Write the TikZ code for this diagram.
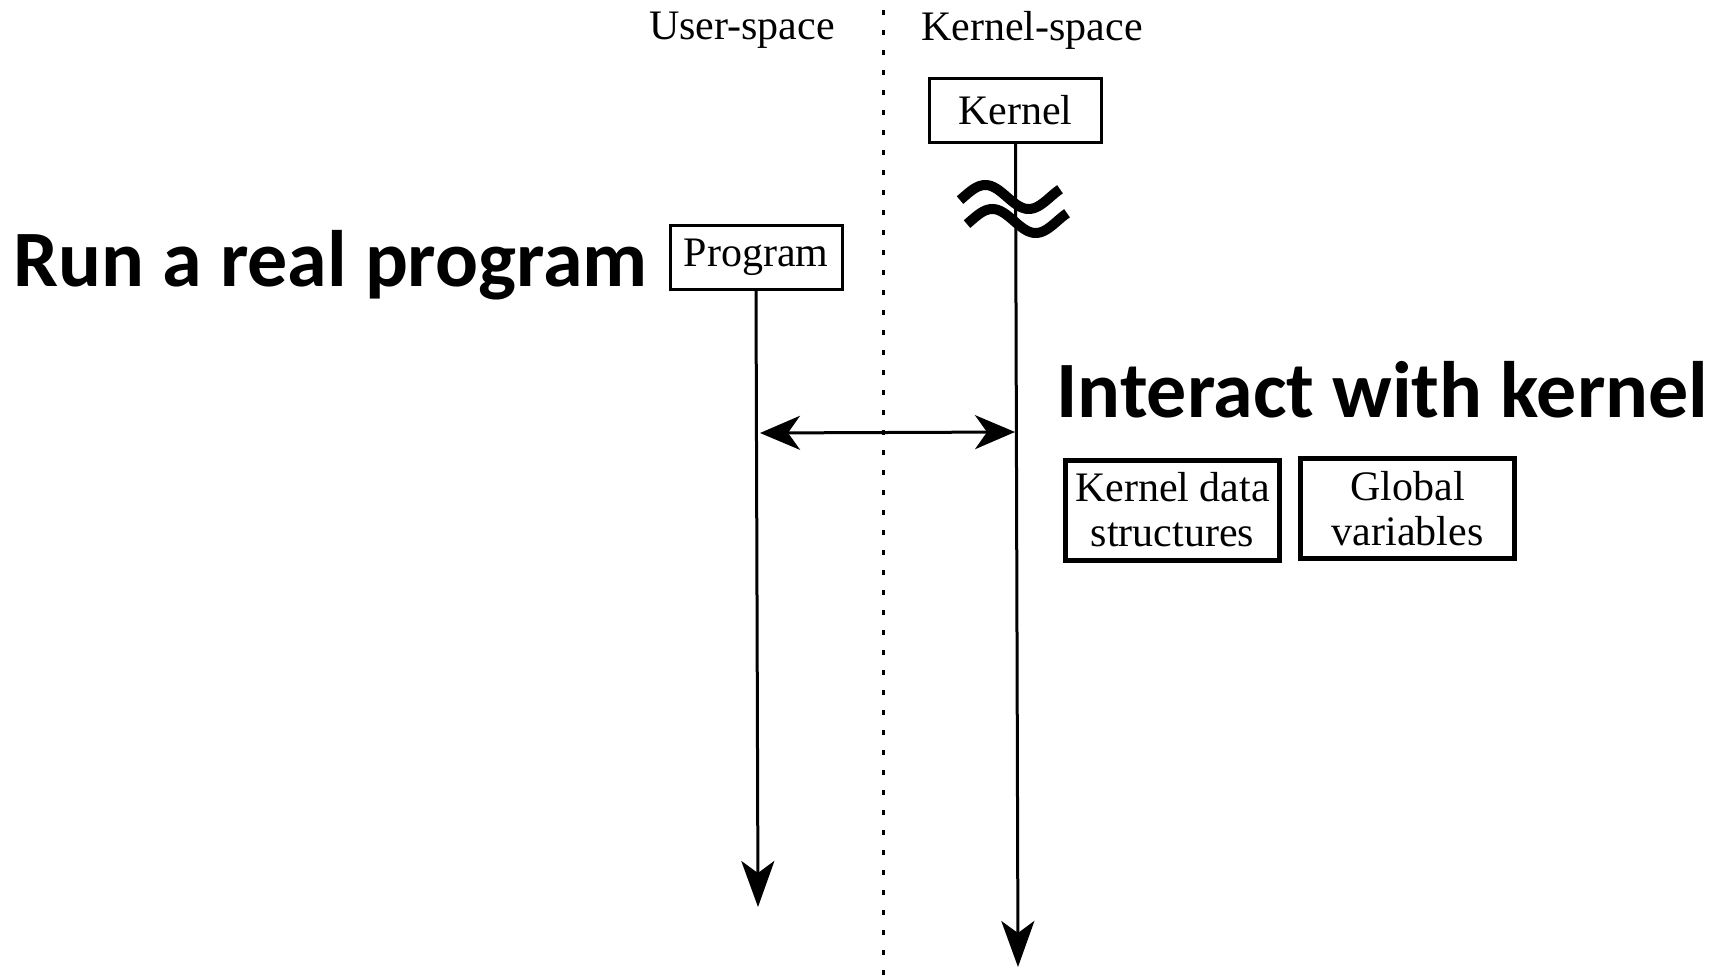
\documentclass[tikz,border=0pt]{standalone}
\usepackage{fontspec}
\setmainfont{Liberation Serif}
\newfontfamily\headfont{Carlito}
\usetikzlibrary{arrows.meta}
\begin{document}
\begin{tikzpicture}[x=0.5pt,y=-0.5pt,
  label/.style={font=\fontsize{21pt}{22.5pt}\selectfont, inner sep=0pt},
  headline/.style={font=\headfont\bfseries\fontsize{40pt}{44pt}\selectfont, inner sep=0pt},
  box/.style={draw, line width=1.5pt, font=\fontsize{21pt}{22.5pt}\selectfont,
    inner sep=0pt, minimum width=86pt, minimum height=32pt},
  databox/.style={draw, line width=2.5pt, font=\fontsize{21pt}{22.5pt}\selectfont,
    align=center, inner sep=0pt, minimum width=107pt, minimum height=50pt},
  life/.style={line width=1.5pt, -{Stealth[length=23pt, width=16.5pt, inset=6pt]}},
  msg/.style={line width=1.5pt, {Stealth[length=20pt, width=17pt, inset=6pt]}-{Stealth[length=20pt, width=17pt, inset=6pt]}},
  wave/.style={line width=5pt},
  divider/.style={line width=1.5pt, dash pattern=on 2.5pt off 7.5pt}]
\useasboundingbox (0,0) rectangle (1711,978);

% boundary between the two address spaces
\coordinate (divtop) at (883,10);
\coordinate (divbot) at (883,978);
\draw[divider] (divtop) -- (divbot);

\node[label] (user) at (742,30) {User-space};
\node[label] (kspace) at (1032,30) {Kernel-space};

% participants
\node[box] (kernel) at (1015.5,110.5) {Kernel};
\node[box] (prog) at (756,257.5) {Program};

\coordinate (kend) at (1018,967);
\coordinate (pend) at (758,907);
\draw[life] (kernel.south) -- (kend);
\draw[life] (prog.south) -- (pend);

% time-skip mark on the kernel lifeline
\draw[wave] plot[domain=-15:400, samples=60, smooth] ({960+(\x+15)*0.241},{197-12*sin(\x)});
\draw[wave] plot[domain=-15:400, samples=60, smooth] ({967+(\x+15)*0.241},{221-12*sin(\x)});

% interaction between program and kernel
\coordinate (pmid) at (760,433);
\coordinate (kmid) at (1015,432);
\draw[msg] (pmid) -- (kmid);

\node[headline, anchor=west] (run) at (13,265) {Run a real program};
\node[headline, anchor=west] (interact) at (1056,390) {Interact with kernel};

\node[databox] (kds) at (1172.5,510) {Kernel data\\structures};
\node[databox] (gv) at (1407.5,508.5) {Global\\variables};
\end{tikzpicture}
\end{document}
